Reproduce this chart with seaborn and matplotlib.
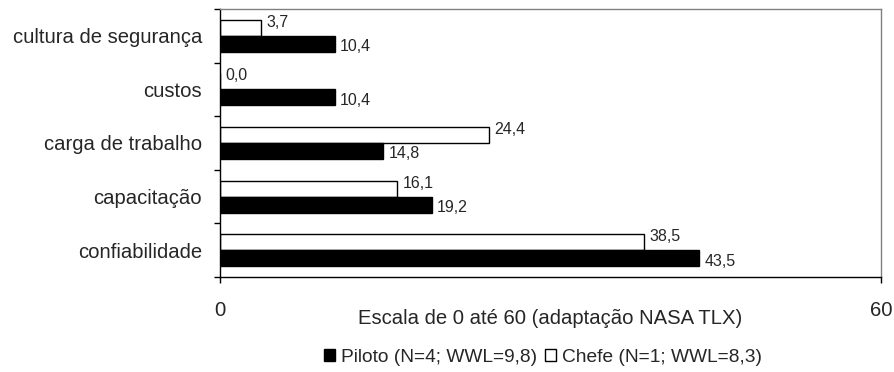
import pandas as pd
import matplotlib.pyplot as plt
import seaborn as sns
from matplotlib.patches import Patch
from matplotlib.ticker import FixedLocator

# Data
categories = ["cultura de segurança", "custos", "carga de trabalho", "capacitação", "confiabilidade"]
chefe = [3.7, 0.0, 24.4, 16.1, 38.5]
piloto = [10.4, 10.4, 14.8, 19.2, 43.5]
label_chefe = "Chefe (N=1; WWL=8,3)"
label_piloto = "Piloto (N=4; WWL=9,8)"

df = pd.DataFrame({
    "categoria": categories * 2,
    "grupo": ["Chefe"] * len(categories) + ["Piloto"] * len(categories),
    "valor": chefe + piloto,
})

sns.set_style("white")
plt.rcParams["font.family"] = ["Liberation Sans", "DejaVu Sans"]

fig = plt.figure(figsize=(8.94, 3.72), dpi=100)
ax = fig.add_axes([220 / 894, 1 - 277 / 372, 661 / 894, 268 / 372])

sns.barplot(data=df, y="categoria", x="valor", hue="grupo", order=categories,
            hue_order=["Chefe", "Piloto"], palette={"Chefe": "white", "Piloto": "black"},
            edgecolor="black", linewidth=1, width=0.6, orient="h", ax=ax, legend=False)

# value labels
for cont, dy in zip(ax.containers, [4, -2]):
    for bar in cont:
        w = bar.get_width()
        ax.annotate(f"{w:.1f}".replace(".", ","),
                    xy=(w, bar.get_y() + bar.get_height() / 2),
                    xytext=(4, dy), textcoords="offset points",
                    ha="left", va="center", fontsize=11.5)

ax.set_xlim(0, 60)
ax.set_ylim(len(categories) - 0.5, -0.5)
ax.set_xticks([0, 60])
ax.set_xticklabels(["0", "60"])
ax.set_ylabel("")
ax.set_xlabel("Escala de 0 até 60 (adaptação NASA TLX)", fontsize=14.6, va="center")
ax.xaxis.set_label_coords(0.5, -0.153)

ax.tick_params(axis="x", which="major", bottom=True, length=4, width=1, pad=13,
               labelsize=14.6, color="black")
ax.tick_params(axis="y", which="major", left=False, length=0, pad=13, labelsize=14.6)
ax.yaxis.set_minor_locator(FixedLocator([i - 0.5 for i in range(len(categories) + 1)]))
ax.tick_params(axis="y", which="minor", left=True, length=4, width=1, color="black")

for side in ["left", "bottom"]:
    ax.spines[side].set_color("black")
    ax.spines[side].set_linewidth(1)
for side in ["top", "right"]:
    ax.spines[side].set_color("#808080")
    ax.spines[side].set_linewidth(1)

handles = [Patch(facecolor="black", edgecolor="black", label=label_piloto),
           Patch(facecolor="white", edgecolor="black", label=label_chefe)]
fig.legend(handles=handles, loc="center", bbox_to_anchor=(543 / 894, 1 - 357 / 372),
           ncol=2, frameon=False, fontsize=13.8, handlelength=0.6, handleheight=0.6,
           handletextpad=0.3, columnspacing=0.4)

fig.savefig("out.png", dpi=100)
